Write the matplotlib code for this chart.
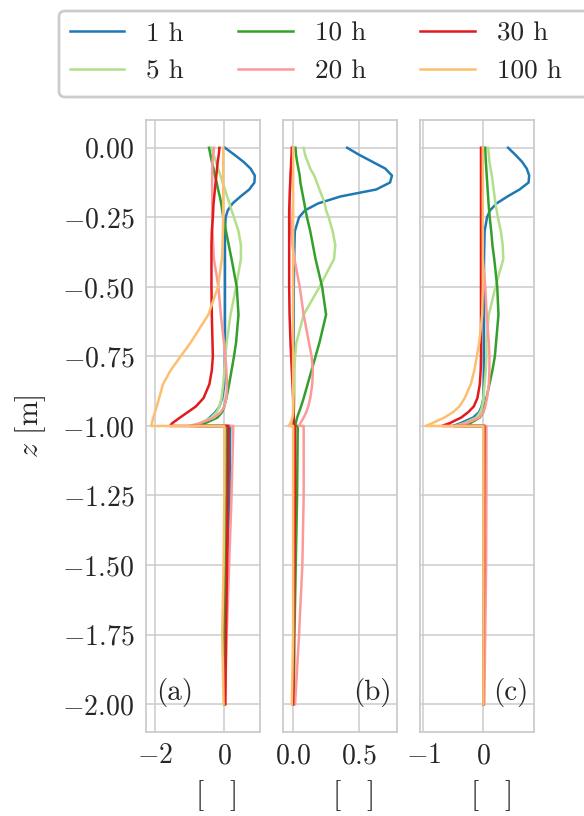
import matplotlib
matplotlib.use("Agg")
import matplotlib.pyplot as plt
from matplotlib.patches import FancyBboxPatch
from matplotlib.ticker import FixedLocator
from matplotlib.transforms import IdentityTransform

plt.rcParams.update({
    "font.family": "serif",
    "font.serif": ["cmr10"],
    "mathtext.fontset": "cm",
    "axes.formatter.use_mathtext": True,
    "font.size": 20,
    "axes.labelsize": 21.5,
    "legend.fontsize": 19.6,
    "axes.edgecolor": "0.8",
    "axes.linewidth": 1.3,
    "grid.color": "0.8",
    "grid.linewidth": 1.1,
    "xtick.color": "0.15",
    "ytick.color": "0.15",
    "axes.labelcolor": "0.15",
    "text.color": "0.15",
    "xtick.major.size": 0,
    "ytick.major.size": 0,
    "xtick.major.pad": 8,
    "ytick.major.pad": 8.5,
})

LABELS = ["1 h", "5 h", "10 h", "20 h", "30 h", "100 h"]
COLORS = ["#1f78b4", "#b2df8a", "#33a02c", "#fb9a99", "#e31a1c", "#fdbf6f"]

# depth grid: upper layer (0 .. -1 m) and lower layer (-1 .. -2 m)
Z_UP = [0.0, -0.025, -0.05, -0.075, -0.1, -0.125, -0.15, -0.175, -0.2, -0.225,
        -0.25, -0.3, -0.35, -0.4, -0.5, -0.6, -0.7, -0.75, -0.8, -0.85,
        -0.9, -0.93, -0.95, -0.97, -0.99, -1.0]
Z_LOW = [-1.0, -1.25, -1.5, -1.75, -2.0]

# panel (a)
A_UP = [
    [0.02, 0.29, 0.55, 0.76, 0.88, 0.87, 0.72, 0.47, 0.24, 0.1, 0.04, 0.02, 0.02,
     0.02, 0.02, 0.02, 0.02, 0.02, 0.01, 0.0, -0.06, -0.14, -0.25, -0.42, -0.62, -0.75],
    [-0.37, -0.31, -0.24, -0.18, -0.11, -0.05, 0.02, 0.08, 0.15, 0.21, 0.28, 0.41, 0.48,
     0.48, 0.34, 0.18, 0.07, 0.03, 0.0, -0.03, -0.08, -0.14, -0.22, -0.38, -0.7, -0.97],
    [-0.44, -0.4, -0.36, -0.31, -0.27, -0.22, -0.18, -0.13, -0.09, -0.06, -0.03, 0.05, 0.13,
     0.21, 0.36, 0.41, 0.34, 0.28, 0.21, 0.14, 0.06, 0.0, -0.06, -0.2, -0.55, -0.85],
    [-0.3, -0.32, -0.34, -0.35, -0.35, -0.35, -0.35, -0.35, -0.35, -0.35, -0.35, -0.34, -0.32,
     -0.3, -0.17, -0.1, -0.01, 0.03, 0.06, 0.08, 0.06, 0.0, -0.1, -0.3, -0.7, -1.0],
    [-0.14, -0.16, -0.19, -0.21, -0.23, -0.25, -0.27, -0.29, -0.31, -0.32, -0.33, -0.36, -0.37,
     -0.37, -0.37, -0.36, -0.34, -0.33, -0.36, -0.43, -0.6, -0.82, -1.05, -1.28, -1.5, -1.57],
    [-0.03, -0.03, -0.03, -0.03, -0.03, -0.03, -0.03, -0.03, -0.03, -0.03, -0.03, -0.04, -0.05,
     -0.07, -0.18, -0.46, -0.97, -1.26, -1.55, -1.77, -1.88, -1.95, -2.0, -2.05, -2.09, -2.11],
]
A_LOW = [
    [0.17, 0.15, 0.08, 0.03, 0.01],
    [0.05, 0.04, 0.01, -0.02, 0.0],
    [0.08, 0.06, 0.02, -0.01, 0.0],
    [0.26, 0.21, 0.14, 0.07, 0.02],
    [0.12, 0.1, 0.08, 0.05, 0.03],
    [0.0, 0.0, -0.02, -0.06, -0.02],
]

# panel (b)
B_UP = [
    [0.41, 0.5, 0.6, 0.7, 0.75, 0.735, 0.63, 0.36, 0.19, 0.09, 0.045, 0.013, 0.01,
     0.008, 0.005, 0.005, 0.005, 0.005, 0.005, 0.005, 0.005, 0.005, 0.005, 0.0, -0.005, -0.01],
    [0.08, 0.09, 0.11, 0.13, 0.16, 0.18, 0.2, 0.22, 0.24, 0.25, 0.27, 0.3, 0.32,
     0.31, 0.2, 0.08, 0.025, 0.015, 0.01, 0.01, 0.01, 0.008, 0.005, 0.0, -0.005, -0.01],
    [0.018, 0.022, 0.03, 0.04, 0.05, 0.055, 0.065, 0.075, 0.085, 0.095, 0.105, 0.13, 0.15,
     0.17, 0.22, 0.25, 0.2, 0.17, 0.14, 0.11, 0.08, 0.06, 0.045, 0.03, 0.02, 0.015],
    [0.0, -0.005, -0.01, -0.015, -0.02, -0.022, -0.025, -0.025, -0.025, -0.022, -0.02, -0.015, -0.005,
     0.01, 0.05, 0.08, 0.12, 0.14, 0.15, 0.145, 0.13, 0.115, 0.1, 0.08, 0.055, 0.045],
    [-0.01, -0.012, -0.015, -0.017, -0.02, -0.022, -0.024, -0.026, -0.028, -0.03, -0.03, -0.03, -0.03,
     -0.03, -0.03, -0.027, -0.02, -0.015, -0.01, -0.005, 0.0, 0.002, 0.004, 0.005, 0.005, 0.005],
    [0.0, 0.0, 0.0, 0.0, 0.0, 0.0, 0.0, 0.0, 0.0, 0.0, 0.0, 0.0, 0.0,
     0.0, 0.0, 0.0, 0.0, 0.0, 0.0, 0.0, 0.0, 0.0, 0.0, -0.005, -0.02, -0.036],
]
B_LOW = [
    [0.01, 0.01, 0.005, 0.005, 0.0],
    [0.01, 0.01, 0.005, 0.005, 0.0],
    [0.035, 0.03, 0.02, 0.01, 0.005],
    [0.08, 0.08, 0.07, 0.045, 0.015],
    [0.015, 0.015, 0.01, 0.005, 0.0],
    [0.0, 0.0, 0.0, 0.0, -0.01],
]

# panel (c)
C_UP = [
    [0.41, 0.53, 0.64, 0.72, 0.76, 0.75, 0.6, 0.4, 0.22, 0.11, 0.06, 0.02, 0.015,
     0.01, 0.01, 0.01, 0.01, 0.01, 0.01, 0.005, 0.0, -0.03, -0.07, -0.17, -0.38, -0.5],
    [0.08, 0.09, 0.1, 0.12, 0.14, 0.155, 0.17, 0.185, 0.2, 0.22, 0.24, 0.29, 0.32,
     0.33, 0.2, 0.09, 0.05, 0.05, 0.04, 0.02, 0.0, -0.02, -0.05, -0.12, -0.32, -0.47],
    [0.03, 0.035, 0.04, 0.048, 0.055, 0.063, 0.07, 0.078, 0.085, 0.095, 0.105, 0.13, 0.15,
     0.18, 0.23, 0.25, 0.21, 0.19, 0.15, 0.1, 0.05, 0.02, 0.0, -0.06, -0.22, -0.36],
    [-0.01, -0.015, -0.02, -0.025, -0.03, -0.03, -0.03, -0.03, -0.03, -0.03, -0.03, -0.03, -0.02,
     -0.01, 0.03, 0.055, 0.09, 0.1, 0.1, 0.09, 0.06, 0.03, 0.0, -0.07, -0.28, -0.45],
    [-0.04, -0.04, -0.04, -0.04, -0.04, -0.04, -0.04, -0.04, -0.04, -0.04, -0.04, -0.04, -0.04,
     -0.04, -0.04, -0.04, -0.04, -0.04, -0.045, -0.06, -0.1, -0.16, -0.25, -0.37, -0.56, -0.69],
    [-0.01, -0.01, -0.01, -0.01, -0.01, -0.01, -0.01, -0.01, -0.01, -0.01, -0.01, -0.01, -0.01,
     -0.01, -0.01, -0.02, -0.07, -0.11, -0.15, -0.21, -0.31, -0.4, -0.5, -0.65, -0.85, -0.96],
]
C_LOW = [
    [0.01, 0.01, 0.005, 0.0, 0.0],
    [0.01, 0.005, 0.0, 0.0, 0.0],
    [0.02, 0.015, 0.01, 0.005, 0.0],
    [0.05, 0.05, 0.045, 0.03, 0.015],
    [0.015, 0.01, 0.01, 0.005, 0.0],
    [0.0, 0.0, 0.0, 0.0, 0.0],
]

PANELS = [
    ("(a)", A_UP, A_LOW, [-2, 0], "left"),
    ("(b)", B_UP, B_LOW, [0.0, 0.5], "right"),
    ("(c)", C_UP, C_LOW, [-1, 0], "right"),
]

fig, axes = plt.subplots(1, 3, sharey=True, figsize=(5.84, 8.16), dpi=100)
fig.subplots_adjust(left=0.25, right=0.915, bottom=0.103, top=0.853, wspace=0.204)

z = Z_UP + Z_LOW
for ax, (tag, up, low, xticks, side) in zip(axes, PANELS):
    for i in range(len(LABELS)):
        ax.plot(up[i] + low[i], z, color=COLORS[i], lw=1.8, label=LABELS[i])
    ax.grid(True)
    ax.set_axisbelow(True)
    ax.xaxis.set_major_locator(FixedLocator(xticks))
    ax.set_xlabel(r"$\quad$[$\quad$]", labelpad=6)
    if side == "left":
        ax.text(0.09, 0.04, tag, transform=ax.transAxes, ha="left", va="bottom", fontsize=21)
    else:
        ax.text(0.95, 0.04, tag, transform=ax.transAxes, ha="right", va="bottom", fontsize=21)

axes[0].set_ylim(-2.1, 0.1)
axes[0].yaxis.set_major_locator(FixedLocator([0, -0.25, -0.5, -0.75, -1.0, -1.25, -1.5, -1.75, -2.0]))
axes[0].set_ylabel(r"$z$ [m]", labelpad=10)

# legend frame runs past the right edge of the figure, so draw it by hand (pixels)
frame = FancyBboxPatch((59, 816 - 97), 560, 86, boxstyle="round,pad=0,rounding_size=6",
                       transform=IdentityTransform(), facecolor="white",
                       edgecolor="0.8", linewidth=2.0, zorder=0)
fig.patches.append(frame)

handles, labels = axes[0].get_legend_handles_labels()
leg = fig.legend(handles, labels, ncol=3, loc="upper left",
                 bbox_to_anchor=(59 / 584, 1 - 11 / 816), frameon=False,
                 borderaxespad=0)

fig.savefig("out.png", dpi=100)
